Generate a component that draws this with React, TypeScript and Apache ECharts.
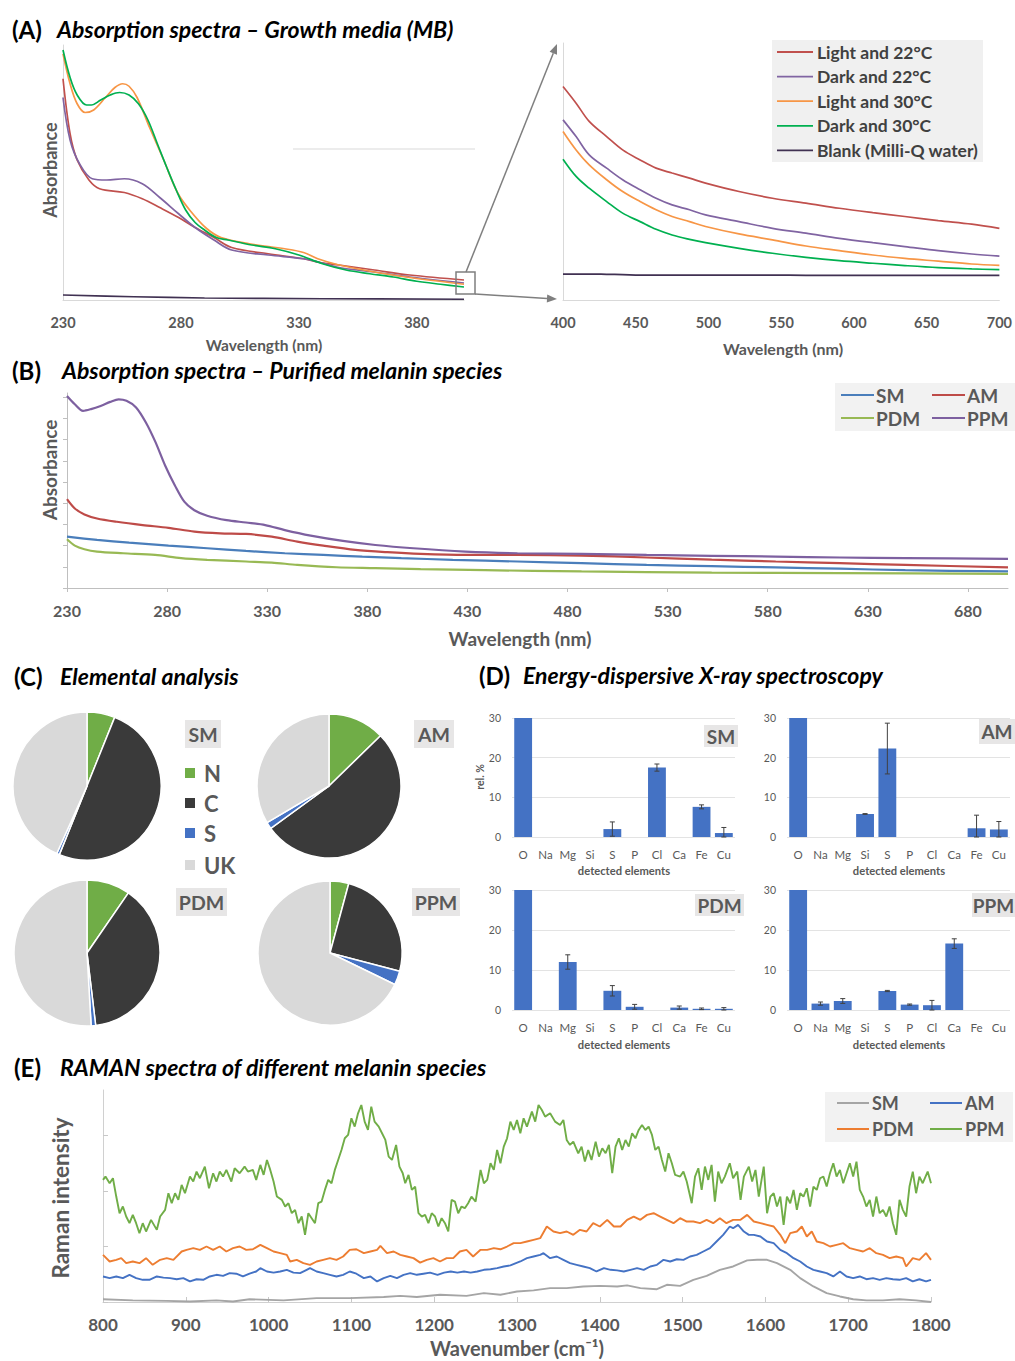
import React, { useEffect, useRef } from "react";
import * as echarts from "echarts";

const FONT = "Lato, 'Open Sans', 'DejaVu Sans', sans-serif";
const GRAY = "#595959";

// ---------- Panel A (growth media) ----------
const aLeftLight22: [number, number][] = [[230,0.885],[233,0.665],[236,0.56],[241,0.48],[245.5,0.445],[256,0.43],[263.6,0.405],[271,0.37],[279,0.33],[286,0.29],[294,0.25],[301.5,0.21],[317,0.185],[332,0.165],[339,0.15],[347,0.14],[362,0.12],[377,0.10],[400,0.08]];
const aLeftDark22: [number, number][] = [[230,0.81],[233,0.64],[237,0.545],[242.4,0.485],[248.5,0.48],[256,0.485],[263.6,0.465],[271,0.41],[279,0.345],[286,0.29],[294,0.24],[301.5,0.20],[317,0.18],[332,0.165],[339,0.15],[347,0.13],[362,0.112],[377,0.092],[400,0.068]];
const aLeftLight30: [number, number][] = [[230,0.985],[233,0.865],[236,0.785],[239.4,0.75],[243,0.76],[248,0.81],[252,0.85],[255.3,0.865],[258,0.855],[261.4,0.81],[266.7,0.69],[272.7,0.56],[278.8,0.425],[285,0.345],[291,0.285],[297,0.25],[309,0.225],[324,0.205],[332,0.19],[338,0.165],[347,0.14],[362,0.112],[377,0.09],[400,0.063]];
const aLeftDark30: [number, number][] = [[230,1.0],[233,0.89],[236,0.82],[240,0.78],[242,0.78],[246,0.8],[250,0.82],[254,0.83],[258,0.82],[262,0.785],[266,0.72],[270,0.625],[274,0.53],[278,0.44],[282,0.36],[286,0.31],[290,0.28],[295,0.25],[300,0.24],[310,0.22],[320,0.205],[330,0.18],[340,0.145],[350,0.12],[360,0.105],[370,0.092],[380,0.075],[390,0.063],[400,0.052]];
const aLeftBlank: [number, number][] = [[230,0.02],[260,0.013],[290,0.008],[340,0.005],[400,0.003]];

const aRightWl = [400,409,418,430,441,453,464,475,487,498,521,544,567,590,613,635,658,681,700];
const aRightLight22 = [0.831,0.766,0.695,0.636,0.584,0.545,0.513,0.494,0.474,0.455,0.422,0.396,0.377,0.357,0.340,0.325,0.309,0.295,0.279];
const aRightDark22 = [0.701,0.636,0.565,0.513,0.468,0.429,0.396,0.370,0.351,0.331,0.305,0.279,0.260,0.240,0.223,0.208,0.192,0.179,0.171];
const aRightLight30 = [0.656,0.584,0.526,0.468,0.422,0.383,0.351,0.325,0.305,0.286,0.257,0.234,0.210,0.192,0.175,0.162,0.151,0.140,0.135];
const aRightDark30 = [0.548,0.481,0.435,0.383,0.338,0.305,0.275,0.253,0.236,0.223,0.201,0.182,0.166,0.153,0.143,0.134,0.126,0.121,0.118];
const aRightBlank = [0.101,0.101,0.101,0.100,0.099,0.097,0.097,0.097,0.097,0.097,0.097,0.097,0.096,0.096,0.096,0.096,0.096,0.096,0.096];

const aSeriesNames = ["Light and 22°C", "Dark and 22°C", "Light and 30°C", "Dark and 30°C", "Blank (Milli-Q water)"];
const aColors = ["#c0504d", "#8064a2", "#f79646", "#00b050", "#403152"];

// ---------- Panel B (purified melanin) ----------
const bSM: [number, number][] = [[230,2.42],[245,2.27],[261,2.14],[280.7,2.0],[300,1.875],[319.4,1.75],[338.8,1.64],[358,1.56],[377.5,1.48],[397,1.41],[422.7,1.33],[455,1.25],[487,1.17],[519.5,1.09],[552,1.03],[584,0.97],[616,0.91],[648.7,0.84],[700,0.78]];
const bAM: [number, number][] = [[230,4.19],[233.9,3.75],[238.7,3.47],[245,3.28],[254.9,3.125],[267.8,2.97],[280.7,2.84],[293.6,2.66],[306.5,2.58],[319.4,2.55],[332.3,2.42],[345,2.19],[358,2.0],[374,1.8],[390,1.69],[406.6,1.61],[429,1.56],[455,1.56],[487,1.53],[519.5,1.44],[552,1.34],[584,1.25],[616,1.17],[648.7,1.09],[700,0.97]];
const bPDM: [number, number][] = [[230,2.3],[233.9,2.0],[238.7,1.83],[245,1.72],[258,1.64],[274,1.56],[287,1.41],[300,1.33],[319.4,1.25],[332.3,1.2],[345,1.09],[364.6,0.98],[384,0.94],[406.6,0.89],[438.8,0.84],[487,0.78],[552,0.73],[616,0.70],[700,0.67]];
const bPPM: [number, number][] = [[230,9.06],[233.9,8.67],[238,8.36],[242,8.44],[246.8,8.59],[251.6,8.78],[255.8,8.9],[259.7,8.83],[264.5,8.52],[269.4,7.81],[274.2,6.88],[279,5.78],[283.9,4.84],[288.7,4.06],[293.6,3.67],[300,3.41],[309.7,3.2],[319.4,3.09],[329,2.97],[338.8,2.73],[351.7,2.47],[367.8,2.22],[384,2.03],[403,1.875],[429,1.72],[455,1.64],[487,1.61],[519.5,1.56],[552,1.52],[584,1.48],[616,1.44],[648.7,1.41],[700,1.375]];
const bNames = ["SM", "AM", "PDM", "PPM"];
const bColors = ["#4a7ebb", "#be4b48", "#98b954", "#7d60a0"];
const bTicks = [230,280,330,380,430,480,530,580,630,680];

// ---------- Panel C (elemental analysis, %) ----------
const cElements = ["N", "C", "S", "UK"];
const cColors = ["#70ad47", "#3a3a3a", "#4472c4", "#d9d9d9"];
const cSM = [6.1, 50.0, 0.6, 43.3];
const cAM = [12.7, 52.3, 1.5, 33.5];
const cPDM = [9.6, 38.5, 1.0, 50.9];
const cPPM = [4.2, 24.9, 3.1, 67.8];

// ---------- Panel D (EDX, rel. %) ----------
const dElements = ["O","Na","Mg","Si","S","P","Cl","Ca","Fe","Cu"];
const dSM = [30, 0, 0, 0, 2.0, 0, 17.5, 0, 7.6, 1.0];
const dSMErr = [0, 0, 0, 0, 1.8, 0, 0.9, 0, 0.5, 1.4];
const dAM = [30, 0, 0, 5.8, 22.3, 0, 0, 0, 2.2, 1.9];
const dAMErr = [0, 0, 0, 0.1, 6.4, 0, 0, 0, 3.3, 2.0];
const dPDM = [30, 0, 12.0, 0, 4.8, 0.8, 0, 0.6, 0.3, 0.3];
const dPDMErr = [0, 0, 1.8, 0, 1.3, 0.6, 0, 0.4, 0.2, 0.3];
const dPPM = [30, 1.6, 2.25, 0, 4.75, 1.35, 1.2, 16.6, 0, 0];
const dPPMErr = [0, 0.4, 0.6, 0, 0.15, 0.15, 1.2, 1.2, 0, 0];

// ---------- Panel E (Raman) ----------
const eSM: [number, number][] = [[800,0.05],[836,0.03],[877,0.02],[905,0.01],[937,0.03],[957,0.01],[977,0.05],[1018,0.03],[1058,0.07],[1098,0.07],[1139,0.09],[1159,0.11],[1179,0.09],[1207,0.13],[1239,0.11],[1260,0.16],[1280,0.13],[1300,0.19],[1320,0.21],[1340,0.25],[1360,0.25],[1380,0.28],[1400,0.29],[1421,0.28],[1433,0.3],[1449,0.25],[1469,0.23],[1481,0.31],[1497,0.29],[1513,0.4],[1529,0.47],[1545,0.58],[1561,0.64],[1578,0.75],[1590,0.76],[1602,0.76],[1614,0.7],[1630,0.58],[1642,0.43],[1658,0.28],[1674,0.16],[1690,0.1],[1706,0.05],[1722,0.03],[1742,0.03],[1762,0.05],[1782,0.03],[1800,0.0]];
const eAM: [number, number][] = [[800,0.46],[808,0.43],[816,0.46],[824,0.43],[832,0.49],[840,0.43],[848,0.4],[856,0.4],[865,0.46],[873,0.44],[881,0.43],[889,0.41],[897,0.43],[905,0.37],[913,0.41],[921,0.4],[929,0.46],[937,0.49],[945,0.47],[953,0.52],[961,0.51],[969,0.46],[977,0.51],[985,0.55],[990,0.61],[998,0.55],[1006,0.53],[1014,0.55],[1022,0.58],[1030,0.53],[1038,0.52],[1046,0.58],[1050,0.61],[1058,0.55],[1066,0.52],[1074,0.49],[1082,0.46],[1090,0.49],[1098,0.55],[1106,0.51],[1115,0.43],[1123,0.46],[1131,0.37],[1139,0.43],[1147,0.47],[1155,0.43],[1163,0.49],[1171,0.52],[1179,0.49],[1187,0.51],[1195,0.53],[1204,0.49],[1212,0.53],[1220,0.55],[1228,0.53],[1236,0.55],[1244,0.53],[1252,0.55],[1260,0.58],[1268,0.59],[1276,0.61],[1284,0.64],[1292,0.66],[1304,0.73],[1312,0.79],[1320,0.82],[1328,0.85],[1332,0.88],[1340,0.79],[1348,0.82],[1356,0.76],[1364,0.7],[1372,0.67],[1380,0.64],[1388,0.61],[1396,0.55],[1405,0.61],[1413,0.58],[1421,0.57],[1429,0.55],[1437,0.58],[1445,0.61],[1453,0.58],[1461,0.64],[1469,0.67],[1477,0.76],[1485,0.73],[1493,0.77],[1501,0.76],[1509,0.82],[1517,0.85],[1525,0.91],[1533,0.97],[1541,1.09],[1549,1.21],[1557,1.36],[1561,1.33],[1567,1.39],[1574,1.27],[1580,1.21],[1586,1.21],[1594,1.18],[1602,1.09],[1610,1.06],[1618,0.94],[1626,0.88],[1634,0.79],[1642,0.73],[1650,0.64],[1658,0.58],[1666,0.55],[1674,0.52],[1682,0.46],[1690,0.55],[1698,0.46],[1706,0.43],[1714,0.46],[1722,0.41],[1730,0.43],[1738,0.4],[1746,0.43],[1754,0.41],[1762,0.4],[1770,0.43],[1778,0.37],[1786,0.41],[1794,0.37],[1800,0.4]];
const ePDM: [number, number][] = [[800,0.85],[808,0.73],[816,0.76],[822,0.79],[828,0.7],[836,0.73],[844,0.7],[852,0.79],[860,0.67],[869,0.76],[877,0.79],[885,0.76],[895,0.91],[901,0.94],[909,0.97],[917,0.94],[925,1.0],[933,0.94],[941,1.0],[949,0.91],[957,0.97],[965,1.0],[973,0.94],[981,0.95],[990,1.03],[998,0.97],[1006,0.91],[1014,0.88],[1022,0.85],[1026,0.73],[1034,0.76],[1042,0.7],[1050,0.67],[1058,0.73],[1066,0.76],[1074,0.79],[1082,0.76],[1090,0.82],[1098,0.94],[1106,0.95],[1115,0.88],[1123,0.91],[1131,0.94],[1135,1.01],[1143,0.88],[1151,0.91],[1159,0.85],[1167,0.82],[1175,0.79],[1183,0.71],[1191,0.76],[1199,0.79],[1207,0.73],[1215,0.79],[1223,0.79],[1231,0.91],[1239,0.94],[1247,0.82],[1256,0.94],[1264,0.94],[1272,0.97],[1280,0.95],[1288,1.0],[1296,1.06],[1304,1.06],[1312,1.09],[1320,1.12],[1328,1.15],[1336,1.36],[1344,1.27],[1352,1.24],[1360,1.27],[1368,1.21],[1376,1.3],[1384,1.27],[1392,1.42],[1400,1.36],[1409,1.48],[1417,1.36],[1425,1.36],[1433,1.48],[1441,1.54],[1449,1.48],[1457,1.57],[1465,1.6],[1473,1.54],[1481,1.48],[1489,1.42],[1497,1.51],[1505,1.45],[1513,1.45],[1521,1.42],[1529,1.48],[1537,1.42],[1545,1.51],[1553,1.42],[1561,1.48],[1570,1.48],[1578,1.57],[1586,1.45],[1594,1.42],[1602,1.39],[1610,1.36],[1618,1.21],[1624,1.06],[1630,1.24],[1638,1.27],[1644,1.36],[1650,1.18],[1656,1.27],[1662,1.09],[1670,1.06],[1678,1.0],[1686,1.03],[1694,1.06],[1702,0.97],[1710,0.94],[1718,0.91],[1726,0.97],[1734,0.88],[1742,0.85],[1750,0.79],[1758,0.82],[1766,0.79],[1770,0.64],[1778,0.79],[1786,0.76],[1794,0.88],[1800,0.76]];
const ePPM: [number, number][] = [[800,2.2],[803,2.26],[808,2.14],[812,2.23],[816,1.9],[820,1.6],[824,1.72],[828,1.54],[832,1.42],[836,1.57],[840,1.42],[844,1.24],[848,1.42],[852,1.27],[858,1.48],[865,1.3],[869,1.54],[875,1.66],[879,1.96],[883,1.78],[887,1.96],[891,1.84],[895,2.11],[899,1.96],[905,2.26],[909,2.17],[913,2.35],[917,2.23],[923,2.44],[928,2.05],[933,2.32],[937,2.17],[941,2.35],[945,2.26],[949,2.38],[955,2.17],[959,2.41],[965,2.32],[971,2.44],[975,2.35],[981,2.38],[985,2.2],[990,2.47],[994,2.29],[998,2.56],[1002,2.38],[1006,2.17],[1010,1.9],[1016,1.84],[1020,1.72],[1024,1.78],[1028,1.6],[1032,1.66],[1036,1.42],[1040,1.54],[1044,1.21],[1048,1.6],[1052,1.51],[1056,1.42],[1060,1.78],[1064,1.81],[1068,2.02],[1072,2.2],[1076,2.14],[1080,2.38],[1084,2.56],[1088,2.74],[1092,2.95],[1096,3.01],[1100,3.31],[1104,3.16],[1108,3.4],[1112,3.55],[1116,3.25],[1120,3.1],[1124,3.52],[1128,3.25],[1133,3.16],[1137,3.04],[1141,2.92],[1145,2.62],[1149,2.56],[1154,2.83],[1158,2.44],[1162,2.32],[1165,2.14],[1169,2.29],[1173,2.02],[1177,2.08],[1181,1.6],[1185,1.54],[1189,1.57],[1193,1.42],[1197,1.6],[1201,1.54],[1205,1.36],[1209,1.51],[1213,1.42],[1217,1.27],[1221,1.84],[1225,1.81],[1229,1.6],[1233,1.72],[1237,1.69],[1241,1.78],[1245,1.9],[1250,1.81],[1256,2.38],[1260,2.14],[1264,2.2],[1268,2.5],[1272,2.38],[1276,2.74],[1280,2.5],[1284,2.8],[1288,2.95],[1292,3.25],[1296,3.1],[1300,3.28],[1304,3.04],[1308,3.31],[1312,3.16],[1318,3.43],[1322,3.25],[1326,3.55],[1330,3.46],[1334,3.34],[1340,3.4],[1346,3.25],[1352,3.19],[1356,3.28],[1360,2.92],[1364,2.83],[1368,2.89],[1374,2.68],[1378,2.8],[1382,2.53],[1386,2.74],[1390,2.56],[1395,2.89],[1399,2.62],[1403,2.77],[1407,2.68],[1411,2.83],[1415,2.32],[1419,2.8],[1423,2.95],[1427,2.74],[1431,2.92],[1435,2.8],[1439,3.04],[1443,2.95],[1447,3.1],[1451,3.19],[1455,3.1],[1459,3.16],[1463,3.01],[1467,2.74],[1471,2.8],[1475,2.56],[1479,2.35],[1483,2.68],[1487,2.5],[1491,2.29],[1497,2.26],[1501,2.35],[1505,2.17],[1511,1.78],[1515,2.26],[1519,2.41],[1523,2.02],[1527,2.44],[1531,2.2],[1535,2.47],[1539,1.81],[1543,2.35],[1547,2.14],[1551,2.26],[1557,2.5],[1561,2.23],[1566,2.35],[1570,1.84],[1574,2.26],[1580,2.44],[1584,2.17],[1588,2.38],[1592,1.9],[1598,2.44],[1602,1.6],[1606,1.9],[1610,1.96],[1614,1.72],[1618,1.9],[1622,1.39],[1626,1.9],[1630,1.78],[1634,2.02],[1638,1.66],[1642,1.96],[1646,1.9],[1650,2.05],[1654,1.72],[1658,2.08],[1662,2.02],[1666,2.23],[1670,2.26],[1674,2.08],[1678,2.32],[1682,2.5],[1686,2.26],[1690,2.38],[1694,2.14],[1698,2.32],[1702,2.5],[1706,2.26],[1710,2.53],[1714,2.02],[1718,1.9],[1722,1.72],[1726,1.84],[1730,1.54],[1734,1.9],[1738,1.6],[1742,1.66],[1746,1.54],[1750,1.72],[1754,1.42],[1758,1.21],[1762,1.84],[1766,1.66],[1770,1.54],[1774,2.08],[1778,2.35],[1782,1.96],[1786,2.26],[1790,2.14],[1796,2.35],[1800,2.14]];
const eNames = ["SM", "AM", "PDM", "PPM"];
const eColors = ["#a5a5a5", "#4472c4", "#ed7d31", "#70ad47"];

// ---------- helpers for graphic ----------
type TxtOpt = { size?: number; weight?: string | number; italic?: boolean; color?: string; align?: string; rot?: number };
const txt = (text: string, x: number, y: number, o: TxtOpt = {}) => ({
  type: "text",
  x,
  y,
  rotation: o.rot || 0,
  silent: true,
  z: 10,
  style: {
    text,
    fontSize: o.size ?? 14,
    fontFamily: FONT,
    fontWeight: o.weight ?? "bold",
    fontStyle: o.italic ? "italic" : "normal",
    fill: o.color ?? GRAY,
    textAlign: o.align ?? "left",
    textVerticalAlign: "middle",
  },
});
const rect = (x: number, y: number, w: number, h: number, fill: string) => ({
  type: "rect", silent: true, z: 5, shape: { x, y, width: w, height: h }, style: { fill },
});
const line = (x1: number, y1: number, x2: number, y2: number, stroke: string, lw = 1.5) => ({
  type: "line", silent: true, z: 6, shape: { x1, y1, x2, y2 }, style: { stroke, lineWidth: lw },
});

export default function App() {
  const ref = useRef<HTMLDivElement>(null);

  useEffect(() => {
    if (!ref.current) return;
    const chart = echarts.init(ref.current, undefined, { renderer: "svg" });

    const lbl = (size: number, extra: any = {}) => ({
      color: GRAY, fontFamily: FONT, fontWeight: "bold", fontSize: size, ...extra,
    });

    const grids = [
      { left: 63, top: 45, width: 401, height: 255 }, // A left
      { left: 563, top: 43, width: 438, height: 257 }, // A right
      { left: 67, top: 393, width: 941, height: 195 }, // B
      { left: 512, top: 718, width: 223, height: 119 }, // D SM
      { left: 787, top: 718, width: 223, height: 119 }, // D AM
      { left: 512, top: 890, width: 223, height: 120 }, // D PDM
      { left: 787, top: 890, width: 223, height: 120 }, // D PPM
      { left: 103, top: 1090, width: 828, height: 212 }, // E
    ];

    const dCat = (gi: number) => ({
      type: "category", gridIndex: gi, data: dElements,
      axisLine: { show: false }, axisTick: { show: false },
      axisLabel: { ...lbl(11.5, { fontWeight: "normal" }), interval: 0, margin: 11 },
    });
    const dVal = (gi: number) => ({
      type: "value", gridIndex: gi, min: 0, max: 30, interval: 10,
      axisLine: { show: false }, axisTick: { show: false },
      axisLabel: { ...lbl(10.5, { fontWeight: "normal" }), margin: 11 },
      splitLine: { lineStyle: { color: "#e3e3e3", width: 1 } },
    });

    const xAxis: any[] = [
      {
        type: "value", gridIndex: 0, min: 230, max: 400,
        axisLine: { lineStyle: { color: "#d9d9d9" } }, axisTick: { show: false }, splitLine: { show: false },
        axisLabel: { ...lbl(14.5), margin: 15, customValues: [230, 280, 330, 380] },
      },
      {
        type: "value", gridIndex: 1, min: 400, max: 700, interval: 50,
        axisLine: { lineStyle: { color: "#d9d9d9" } }, axisTick: { show: false }, splitLine: { show: false },
        axisLabel: { ...lbl(14.5), margin: 15 },
      },
      {
        type: "value", gridIndex: 2, min: 230, max: 700,
        axisLine: { lineStyle: { color: "#bfbfbf" } },
        axisTick: { show: true, length: 4, lineStyle: { color: "#bfbfbf" }, customValues: bTicks },
        splitLine: { show: false },
        axisLabel: { ...lbl(16), margin: 14, customValues: bTicks },
      },
      dCat(3), dCat(4), dCat(5), dCat(6),
      {
        type: "value", gridIndex: 7, min: 800, max: 1800, interval: 100,
        axisLine: { lineStyle: { color: "#d0d0d0" } },
        axisTick: { show: true, inside: true, length: 5, lineStyle: { color: "#c8c8c8" } },
        splitLine: { show: false },
        axisLabel: { ...lbl(17), margin: 14, formatter: (v: number) => String(v) },
      },
    ];

    const yAxis: any[] = [
      {
        type: "value", gridIndex: 0, min: 0, max: 1.02,
        axisLine: { show: true, lineStyle: { color: "#d9d9d9" } }, axisTick: { show: false },
        axisLabel: { show: false }, splitLine: { show: false },
      },
      {
        type: "value", gridIndex: 1, min: 0, max: 1,
        axisLine: { show: true, lineStyle: { color: "#d9d9d9" } }, axisTick: { show: false },
        axisLabel: { show: false }, splitLine: { show: false },
      },
      {
        type: "value", gridIndex: 2, min: 0, max: 9.2,
        axisLine: { show: true, lineStyle: { color: "#bfbfbf" } },
        axisTick: { show: true, length: 4, lineStyle: { color: "#bfbfbf" }, customValues: [0, 1, 2, 3, 4, 5, 6, 7, 8, 9] },
        axisLabel: { show: false }, splitLine: { show: false },
      },
      dVal(3), dVal(4), dVal(5), dVal(6),
      {
        type: "value", gridIndex: 7, min: 0, max: 3.82,
        axisLine: { show: true, lineStyle: { color: "#d0d0d0" } },
        axisTick: { show: true, inside: true, length: 5, lineStyle: { color: "#c8c8c8" }, customValues: [0, 1, 2, 3] },
        axisLabel: { show: false }, splitLine: { show: false },
      },
    ];

    const lineSeries = (name: string, data: any[], gi: number, color: string, width: number, smooth: number | boolean) => ({
      type: "line", name, data, xAxisIndex: gi, yAxisIndex: gi, showSymbol: false, symbol: "none",
      smooth, silent: true, lineStyle: { color, width }, itemStyle: { color },
    });

    const aLeft = [aLeftLight22, aLeftDark22, aLeftLight30, aLeftDark30, aLeftBlank];
    const aRight = [aRightLight22, aRightDark22, aRightLight30, aRightDark30, aRightBlank];

    const series: any[] = [];
    aLeft.forEach((d, i) => series.push(lineSeries(aSeriesNames[i], d, 0, aColors[i], 1.7, 0.35)));
    aRight.forEach((d, i) =>
      series.push(lineSeries(aSeriesNames[i], aRightWl.map((w, k) => [w, d[k]]), 1, aColors[i], 1.7, 0.35))
    );
    [bSM, bAM, bPDM, bPPM].forEach((d, i) => series.push(lineSeries(bNames[i], d, 2, bColors[i], 2.2, 0.3)));

    const pieDefs: [number[], number, number, number][] = [
      [cSM, 87, 786, 74], [cAM, 329, 786, 72], [cPDM, 87, 953, 73], [cPPM, 330, 953, 72],
    ];
    pieDefs.forEach(([vals, cx, cy, r]) =>
      series.push({
        type: "pie", center: [cx, cy], radius: r, startAngle: 90, clockwise: true, silent: true,
        label: { show: false }, labelLine: { show: false },
        itemStyle: { borderColor: "#ffffff", borderWidth: 1.5 },
        data: vals.map((v, k) => ({ value: v, name: cElements[k], itemStyle: { color: cColors[k] } })),
      })
    );

    const dDefs: [number[], number[]][] = [[dSM, dSMErr], [dAM, dAMErr], [dPDM, dPDMErr], [dPPM, dPPMErr]];
    dDefs.forEach(([vals, errs], k) => {
      const gi = 3 + k;
      series.push({
        type: "bar", xAxisIndex: gi, yAxisIndex: gi, data: vals, barCategoryGap: "20%", silent: true,
        itemStyle: { color: "#4472c4" },
      });
      series.push({
        type: "custom", xAxisIndex: gi, yAxisIndex: gi, silent: true, z: 5,
        data: vals.map((v, i) => [i, v, errs[i]]),
        encode: { x: 0, y: 1 },
        renderItem: (_p: any, api: any) => {
          const idx = api.value(0);
          const v = api.value(1);
          const e = api.value(2);
          if (!e) return null;
          const hi = api.coord([idx, v + e]);
          const lo = api.coord([idx, Math.max(0, v - e)]);
          const w = 2.5;
          const st = { stroke: "#404040", lineWidth: 1 };
          return {
            type: "group",
            children: [
              { type: "line", shape: { x1: hi[0], y1: hi[1], x2: lo[0], y2: lo[1] }, style: st },
              { type: "line", shape: { x1: hi[0] - w, y1: hi[1], x2: hi[0] + w, y2: hi[1] }, style: st },
              { type: "line", shape: { x1: lo[0] - w, y1: lo[1], x2: lo[0] + w, y2: lo[1] }, style: st },
            ],
          };
        },
      });
    });

    [eSM, eAM, ePDM, ePPM].forEach((d, i) => series.push(lineSeries(eNames[i], d, 7, eColors[i], 1.9, false)));

    // ---------- graphic ----------
    const g: any[] = [];
    const title = (tag: string, tx: number, text: string, x2: number, y: number) => {
      g.push(txt(tag, tx, y, { size: 24, color: "#000000" }));
      g.push(txt(text, x2, y, { size: 23, italic: true, color: "#000000" }));
    };
    title("(A)", 12, "Absorption spectra – Growth media (MB)", 57, 29);
    title("(B)", 12, "Absorption spectra – Purified melanin species", 62, 370);
    title("(C)", 14, "Elemental analysis", 60, 676);
    title("(D)", 479, "Energy-dispersive X-ray spectroscopy", 523, 675);
    title("(E)", 14, "RAMAN spectra of different melanin species", 60, 1067);

    // Panel A axis names
    g.push(txt("Absorbance", 50, 170, { size: 18, align: "center", rot: Math.PI / 2 }));
    g.push(txt("Wavelength (nm)", 264, 345, { size: 15.5, align: "center" }));
    g.push(txt("Wavelength (nm)", 783, 348, { size: 16, align: "center" }));
    // faint artefact line
    g.push(line(293, 149, 475, 149, "#ececec", 2));
    // zoom box and arrows
    g.push({ type: "rect", silent: true, z: 6, shape: { x: 456, y: 272, width: 19, height: 22 }, style: { fill: "none", stroke: "#7f7f7f", lineWidth: 1.5 } });
    g.push(line(466, 272, 553.3, 53.3, "#7f7f7f", 1.5));
    g.push({ type: "polygon", silent: true, z: 6, shape: { points: [[557, 44], [557.0, 54.8], [549.6, 51.8]] }, style: { fill: "#7f7f7f" } });
    g.push(line(475, 294, 547, 298.4, "#7f7f7f", 1.5));
    g.push({ type: "polygon", silent: true, z: 6, shape: { points: [[557, 299], [546.8, 302.4], [547.2, 294.4]] }, style: { fill: "#7f7f7f" } });
    // Panel A legend
    g.push(rect(772, 40, 211, 122, "#f0f0f0"));
    aSeriesNames.forEach((n, i) => {
      const y = 52 + i * 24.6;
      g.push(line(777, y, 813, y, aColors[i], 1.8));
      g.push(txt(n, 817, y, { size: 17.5, color: "#404040" }));
    });

    // Panel B
    g.push(txt("Absorbance", 49, 470, { size: 19, align: "center", rot: Math.PI / 2 }));
    g.push(txt("Wavelength (nm)", 520, 638, { size: 19, align: "center" }));
    g.push(rect(835, 383, 180, 48, "#f2f2f2"));
    bNames.forEach((n, i) => {
      const col = i % 2;
      const row = Math.floor(i / 2);
      const x0 = col === 0 ? 841 : 932;
      const y = 395 + row * 23;
      g.push(line(x0, y, x0 + 33, y, bColors[i], 2));
      g.push(txt(n, x0 + 35, y, { size: 19 }));
    });

    // Panel C legend and labels
    const cBoxes: [string, number, number, number][] = [
      ["SM", 185, 720, 36], ["AM", 414, 720, 40], ["PDM", 176, 888, 51], ["PPM", 412, 888, 48],
    ];
    cBoxes.forEach(([t, x, y, w]) => {
      g.push(rect(x, y, w, 28, "#e7e6e6"));
      g.push(txt(t, x + w / 2, y + 14, { size: 19.5, align: "center" }));
    });
    cElements.forEach((n, i) => {
      const y = [773, 803, 833, 865][i];
      g.push(rect(185, y - 5, 10, 10, cColors[i]));
      g.push(txt(n, 204, y, { size: 22 }));
    });

    // Panel D labels
    g.push(txt("rel. %", 480, 777, { size: 10.5, align: "center", rot: Math.PI / 2 }));
    [[624, 870], [899, 870], [624, 1044], [899, 1044]].forEach(([x, y]) =>
      g.push(txt("detected elements", x, y, { size: 11.2, align: "center" }))
    );
    const dBoxes: [string, number, number, number, number][] = [
      ["SM", 704, 725, 34, 22], ["AM", 979, 719, 36, 25], ["PDM", 695, 894, 49, 22], ["PPM", 972, 893, 43, 24],
    ];
    dBoxes.forEach(([t, x, y, w, h]) => {
      g.push(rect(x, y, w, h, "#e7e6e6"));
      g.push(txt(t, x + w / 2, y + h / 2, { size: 19, align: "center" }));
    });

    // Panel E
    g.push(txt("Raman intensity", 60, 1198, { size: 22.5, align: "center", rot: Math.PI / 2 }));
    g.push(txt("Wavenumber (cm⁻¹)", 517, 1348, { size: 20, align: "center" }));
    g.push(rect(825, 1092, 188, 50, "#f2f2f2"));
    eNames.forEach((n, i) => {
      const col = i % 2;
      const row = Math.floor(i / 2);
      const x0 = col === 0 ? 837 : 930;
      const y = 1103 + row * 26;
      g.push(line(x0, y, x0 + 32, y, eColors[i], 2));
      g.push(txt(n, x0 + 35, y, { size: 18 }));
    });

    chart.setOption({
      animation: false,
      backgroundColor: "#ffffff",
      textStyle: { fontFamily: FONT },
      grid: grids,
      xAxis,
      yAxis,
      series,
      graphic: { elements: g },
    });

    return () => chart.dispose();
  }, []);

  return (
    <div
      ref={ref}
      style={{ position: "absolute", left: 0, top: 0, width: 1015, height: 1361, background: "#fff" }}
    />
  );
}
